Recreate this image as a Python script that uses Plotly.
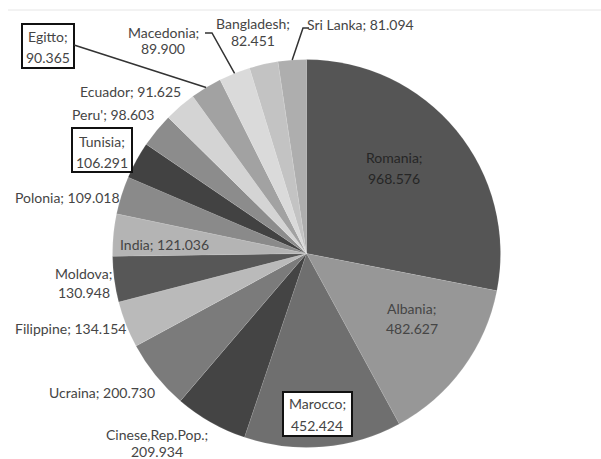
import math
import plotly.graph_objects as go

# ---- data ----
countries = ["Romania", "Albania", "Marocco", "Cinese,Rep.Pop.", "Ucraina", "Filippine",
             "Moldova", "India", "Polonia", "Tunisia", "Peru'", "Ecuador", "Egitto",
             "Macedonia", "Bangladesh", "Sri Lanka"]
values = [968.576, 482.627, 452.424, 209.934, 200.730, 134.154, 130.948, 121.036,
          109.018, 106.291, 98.603, 91.625, 90.365, 89.900, 82.451, 81.094]
value_labels = ["968.576", "482.627", "452.424", "209.934", "200.730", "134.154",
                "130.948", "121.036", "109.018", "106.291", "98.603", "91.625",
                "90.365", "89.900", "82.451", "81.094"]

# ---- styles ----
colors = ["#555555", "#979797", "#6f6f6f", "#444444", "#7b7b7b", "#bababa",
          "#575757", "#b4b4b4", "#8a8a8a", "#424242", "#8c8c8c", "#d4d4d4",
          "#a2a2a2", "#dadada", "#c3c3c3", "#aeaeae"]

W, H = 601, 459
CX, CY, R = 306.5, 253.5, 194.0


def fx(x):
    return x / W


def fy(y):
    return 1 - y / H


# label layout: x px, list of line-centre y px, box (x0,y0,x1,y1) or None
label_layout = {
    "Romania": (394, [157, 178], None),
    "Albania": (412, [308, 328], None),
    "Marocco": (317, [403, 425], (283, 392, 352, 436)),
    "Cinese,Rep.Pop.": (157, [434, 451], None),
    "Ucraina": (102, [392], None),
    "Filippine": (70, [328], None),
    "Moldova": (84, [273, 292], None),
    "India": (164, [245], None),
    "Polonia": (67, [197], None),
    "Tunisia": (102, [142, 162], (72, 128, 132, 172)),
    "Peru'": (113, [114], None),
    "Ecuador": (130, [91], None),
    "Egitto": (48, [37, 57], (22, 24, 74, 68)),
    "Macedonia": (163, [32, 48.5], None),
    "Bangladesh": (253, [23, 40], None),
    "Sri Lanka": (360, [25], None),
}
text_color = {"Romania": "#262626"}

FONT = "Lato, 'Open Sans', sans-serif"
TXT = "#454545"

fig = go.Figure(go.Pie(
    labels=countries,
    values=values,
    sort=False,
    direction="clockwise",
    rotation=0,
    textinfo="none",
    hoverinfo="label+value",
    marker=dict(colors=colors, line=dict(color="rgba(255,255,255,0.2)", width=0.5)),
    domain=dict(x=[fx(CX - R), fx(CX + R)], y=[fy(CY + R), fy(CY - R)]),
    showlegend=False,
))

annotations = []
shapes = []
for name, val in zip(countries, value_labels):
    x, ys, box = label_layout[name]
    lines = [name + ";", val] if len(ys) == 2 else [name + "; " + val]
    if box is not None:
        x0, y0, x1, y1 = box
        shapes.append(dict(type="rect", x0=fx(x0), x1=fx(x1), y0=fy(y0), y1=fy(y1),
                           xref="paper", yref="paper", fillcolor="white",
                           line=dict(color="#111111", width=2), layer="above"))
    for line, y in zip(lines, ys):
        annotations.append(dict(text=line, x=fx(x), y=fy(y), xref="paper", yref="paper",
                                xanchor="center", yanchor="middle", showarrow=False,
                                font=dict(family=FONT, size=14,
                                          color=text_color.get(name, TXT))))

# leader lines: end at the slice mid-angle on the rim
total = sum(values)
mid = {}
cum = 0.0
for name, v in zip(countries, values):
    mid[name] = (cum + v / 2) / total * 2 * math.pi
    cum += v


def rim(name, k=1.0):
    t = mid[name]
    return CX + k * R * math.sin(t), CY - k * R * math.cos(t)


leader_starts = {
    "Egitto": [(74, 45)],
    "Macedonia": [(205, 33), (212, 33)],
    "Sri Lanka": [(309, 28), (303, 28)],
}
for name, pts in leader_starts.items():
    ex, ey = rim(name, 1.0)
    pts = pts + [(ex, ey)]
    path = "M " + " L ".join(f"{fx(px)} {fy(py)}" for px, py in pts)
    shapes.append(dict(type="path", path=path, xref="paper", yref="paper",
                       line=dict(color="#333333", width=1.5)))

# faint chart-area top border
shapes.append(dict(type="line", x0=fx(8), x1=fx(601), y0=fy(10), y1=fy(10),
                   xref="paper", yref="paper", line=dict(color="#e6e6e6", width=1)))

fig.update_layout(
    width=W, height=H,
    margin=dict(l=0, r=0, t=0, b=0),
    paper_bgcolor="white",
    plot_bgcolor="white",
    annotations=annotations,
    shapes=shapes,
)

fig.write_html("out.html",
               config={"displayModeBar": False},
               post_script="document.body.style.margin='0px';"
                           "document.body.style.overflow='hidden';")
